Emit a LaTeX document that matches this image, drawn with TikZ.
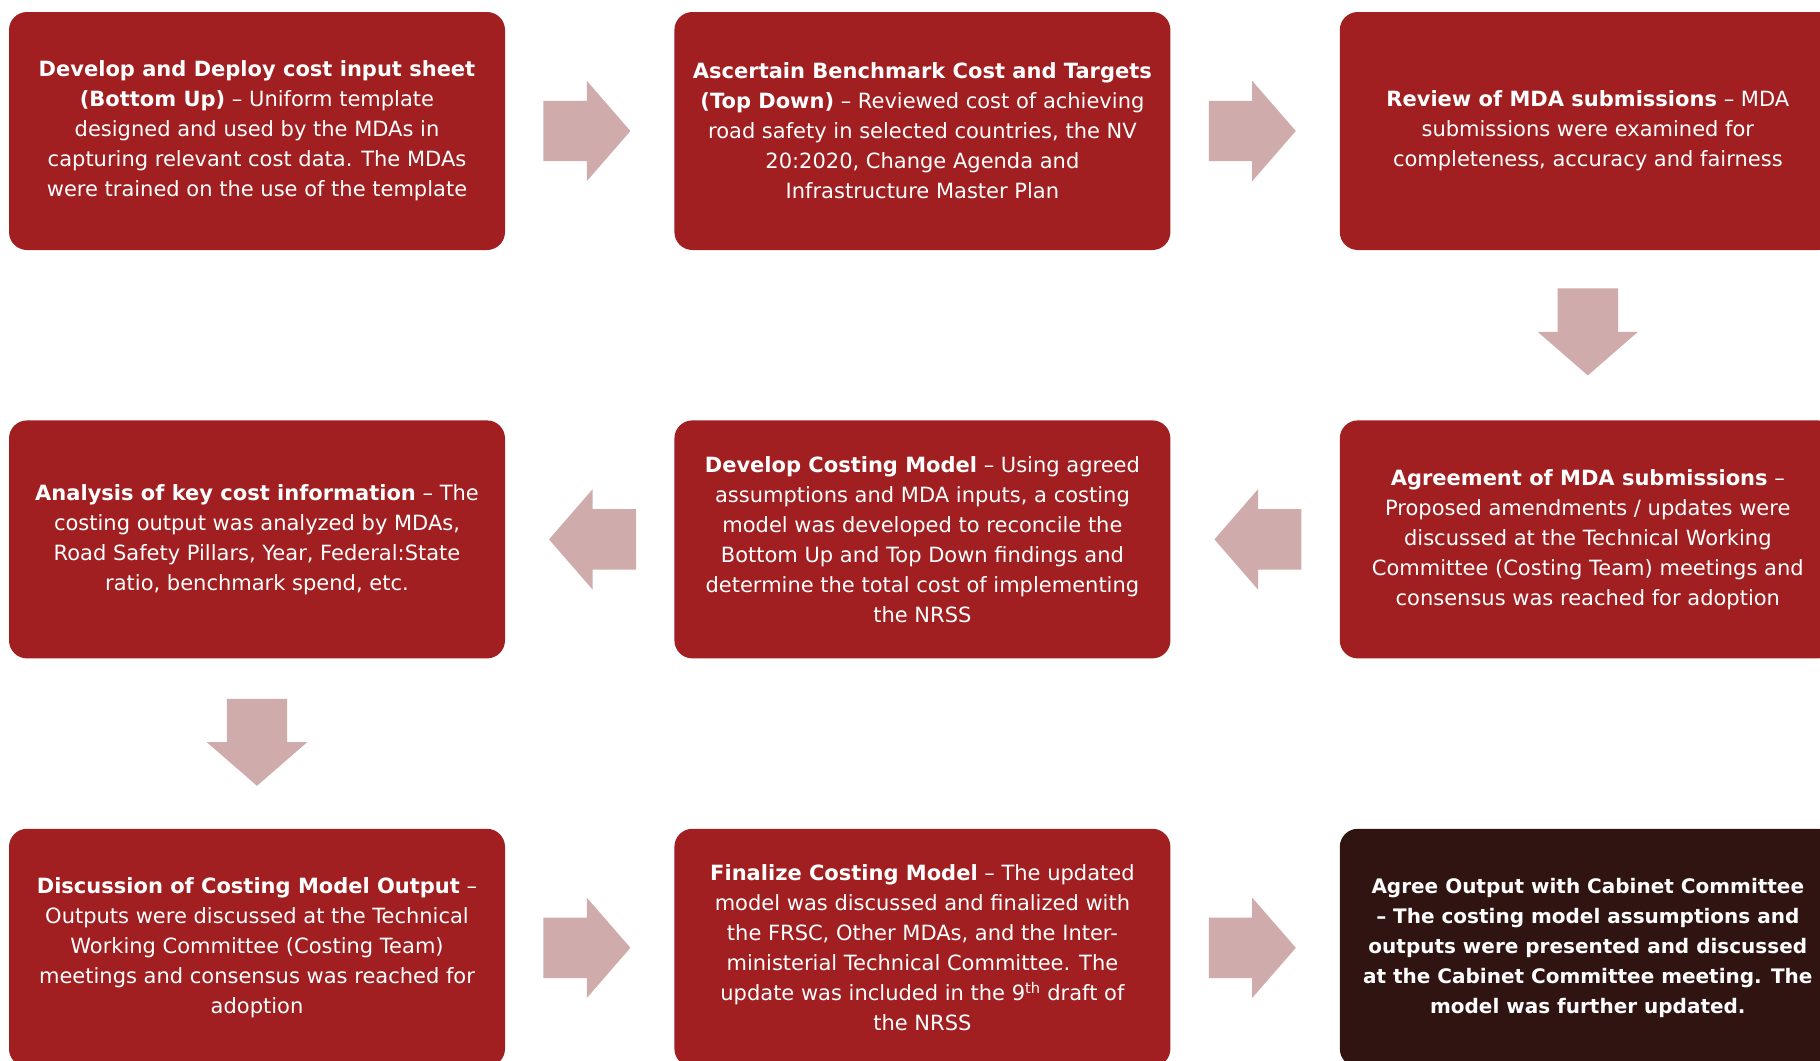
\documentclass[tikz,border=0pt]{standalone}
\usepackage{fontspec}
\setmainfont{DejaVu Sans}
\usepackage{xcolor}
\usepackage{tikz}
\usetikzlibrary{shapes,arrows,positioning,calc}

\definecolor{boxred}{HTML}{A11F21}
\definecolor{boxdark}{HTML}{301412}
\definecolor{flowpink}{HTML}{CFABAB}

\begin{document}
\begin{tikzpicture}[x=1pt, y=-1pt, node distance=170pt and 169pt]
        \tikzstyle{block} = [rectangle, fill=boxred, text=white, align=center, rounded corners=18pt, minimum width=496pt, minimum height=238pt, inner sep=0pt, font=\fontsize{21}{30}\selectfont]
        \tikzstyle{final} = [block, fill=boxdark, font=\fontsize{20}{30}\selectfont\bfseries]
        \tikzstyle{flow} = [single arrow, anchor=tail, fill=flowpink, minimum height=87pt, single arrow head extend=20pt, single arrow tip angle=98, single arrow head indent=0pt, inner xsep=0pt, inner ysep=30pt]

        \useasboundingbox (0,0) rectangle (1820,1060);

        % first row
        \node [block] (sheet) at (257,131) {\textbf{Develop and Deploy cost input sheet}\\ \textbf{(Bottom Up)} -- Uniform template\\ designed and used by the MDAs in\\ capturing relevant cost data. The MDAs\\ were trained on the use of the template};
        \node [block, right=of sheet] (bench) {\textbf{Ascertain Benchmark Cost and Targets}\\ \textbf{(Top Down)} -- Reviewed cost of achieving\\ road safety in selected countries, the NV\\ 20:2020, Change Agenda and\\ Infrastructure Master Plan};
        \node [block, right=of bench] (review) {\textbf{Review of MDA submissions} -- MDA\\ submissions were examined for\\ completeness, accuracy and fairness};

        % second row
        \node [block, below=of review] (agree) {\textbf{Agreement of MDA submissions} --\\ Proposed amendments / updates were\\ discussed at the Technical Working\\ Committee (Costing Team) meetings and\\ consensus was reached for adoption};
        \node [block, below=of bench] (model) {\textbf{Develop Costing Model} -- Using agreed\\ assumptions and MDA inputs, a costing\\ model was developed to reconcile the\\ Bottom Up and Top Down findings and\\ determine the total cost of implementing\\ the NRSS};
        \node [block, below=of sheet] (analysis) {\textbf{Analysis of key cost information} -- The\\ costing output was analyzed by MDAs,\\ Road Safety Pillars, Year, Federal:State\\ ratio, benchmark spend, etc.};

        % third row
        \node [block, below=of analysis] (discuss) {\textbf{Discussion of Costing Model Output} --\\ Outputs were discussed at the Technical\\ Working Committee (Costing Team)\\ meetings and consensus was reached for\\ adoption};
        \node [block, right=of discuss] (finalize) {\textbf{Finalize Costing Model} -- The updated\\ model was discussed and finalized with\\ the FRSC, Other MDAs, and the Inter-\\ ministerial Technical Committee. The\\ update was included in the 9\textsuperscript{th} draft of\\ the NRSS};
        \node [final, right=of finalize] (cabinet) {Agree Output with Cabinet Committee\\ -- The costing model assumptions and\\ outputs were presented and discussed\\ at the Cabinet Committee meeting. The\\ model was further updated.};

        % block arrows
        \node [flow] (f1) at ($(sheet.east)+(38,0)$) {};
        \node [flow] (f2) at ($(bench.east)+(38,0)$) {};
        \node [flow, rotate=-90] (f3) at ($(review.south)+(0,38)$) {};
        \node [flow, rotate=180] (f4) at ($(agree.west)+(-38,0)$) {};
        \node [flow, rotate=180] (f5) at ($(model.west)+(-38,0)$) {};
        \node [flow, rotate=-90] (f6) at ($(analysis.south)+(0,40)$) {};
        \node [flow] (f7) at ($(discuss.east)+(38,0)$) {};
        \node [flow] (f8) at ($(finalize.east)+(38,0)$) {};
\end{tikzpicture}
\end{document}
